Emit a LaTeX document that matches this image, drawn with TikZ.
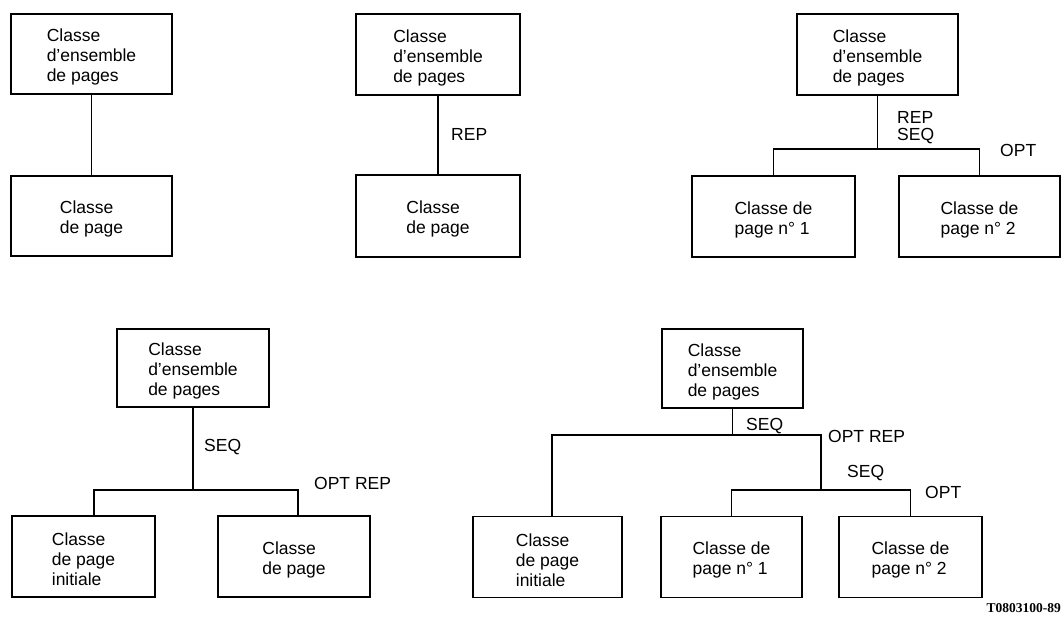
\documentclass[tikz,border=0pt]{standalone}
\usepackage{fontspec}
\setmainfont{Liberation Sans}
\newfontfamily\codefont{Liberation Serif}
% taller first line so the box text sits a little lower
\newcommand\liftline{\rule{0pt}{19pt}}
\begin{document}
\begin{tikzpicture}[x=1pt,y=-1pt,
  txt/.style={font=\fontsize{17.5}{20}\selectfont},
  box/.style={txt, draw, line width=1.5pt, rectangle, inner sep=0pt, align=left},
  lab/.style={txt, inner sep=0pt, anchor=west},
  conn/.style={line width=1.4pt}]
\useasboundingbox (0,0) rectangle (1062,617);

% --- group 1: single child
\node[box, minimum width=161pt, minimum height=80pt] (a1) at (91.5,54) {\liftline Classe\\d’ensemble\\de pages};
\node[box, minimum width=161pt, minimum height=80pt] (b1) at (91.5,216) {\liftline Classe\\de page};
\draw[conn] (a1) -- (b1);

% --- group 2: repeated child
\node[box, minimum width=164pt, minimum height=81pt] (a2) at (438,54.5) {\liftline Classe\\d’ensemble\\de pages};
\node[box, minimum width=164pt, minimum height=82pt] (b2) at (438,216) {\liftline Classe\\de page};
\draw[conn] (a2) -- (b2);
\node[lab] (r2) at (451,134) {REP};

% --- group 3: repeated sequence of two
\node[box, minimum width=161pt, minimum height=81pt] (a3) at (877.5,54.5) {\liftline Classe\\d’ensemble\\de pages};
\node[box, minimum width=163pt, minimum height=81pt] (b3) at (773.5,216.5) {\liftline Classe de\\page n° 1};
\node[box, minimum width=161pt, minimum height=81pt] (c3) at (979.5,216.5) {\liftline Classe de\\page n° 2};
\coordinate (j3) at (a3.south |- 0,149);
\draw[conn] (a3.south) -- (j3);
\draw[conn] (b3.north) |- (j3) -| (c3.north);
\node[lab] (r3) at (897,117) {REP};
\node[lab] (s3) at (897,136) {SEQ};
\node[lab] (o3) at (1000,150) {OPT};

% --- group 4: initial page then optional repeated pages
\node[box, minimum width=152pt, minimum height=78pt] (a4) at (193,368) {\liftline Classe\\d’ensemble\\de pages};
\node[box, minimum width=143pt, minimum height=81pt] (b4) at (83.5,556.5) {\liftline Classe\\de page\\initiale};
\node[box, minimum width=152pt, minimum height=81pt] (c4) at (294,556.5) {\liftline Classe\\de page};
\coordinate (l4) at (94,490);
\coordinate (r4) at (298,490);
\draw[conn] (a4.south) -- (a4.south |- l4);
\draw[conn] (l4 |- b4.north) -- (l4) -- (r4) -- (r4 |- c4.north);
\node[lab] (s4) at (204,447) {SEQ};
\node[lab] (o4) at (314,483) {OPT REP};

% --- group 5: nested sequence
\node[box, minimum width=141pt, minimum height=79pt] (a5) at (732.5,368.5) {\liftline Classe\\d’ensemble\\de pages};
\node[box, minimum width=149pt, minimum height=81pt] (b5) at (547.5,557) {\liftline Classe\\de page\\initiale};
\node[box, minimum width=141pt, minimum height=81pt] (c5) at (731.5,557) {\liftline Classe de\\page n° 1};
\node[box, minimum width=143pt, minimum height=81pt] (d5) at (910.5,557) {\liftline Classe de\\page n° 2};
\coordinate (j5) at (a5.south |- 0,435);
\coordinate (l5) at (552,435);
\coordinate (r5) at (821,435);
\coordinate (k5) at (821,490);
\draw[conn] (a5.south) -- (j5);
\draw[conn] (l5 |- b5.north) -- (l5) -- (r5) -- (k5);
\draw[conn] (c5.north) |- (k5) -| (d5.north);
\node[lab] (s5) at (746,426) {SEQ};
\node[lab] (o5) at (828,436) {OPT REP};
\node[lab] (t5) at (847,473) {SEQ};
\node[lab] (p5) at (925,492) {OPT};

% figure reference
\node[inner sep=0pt, anchor=east, font=\codefont\bfseries\fontsize{13.5}{15}\selectfont] (ref) at (1061,608) {T0803100-89};
\end{tikzpicture}
\end{document}
